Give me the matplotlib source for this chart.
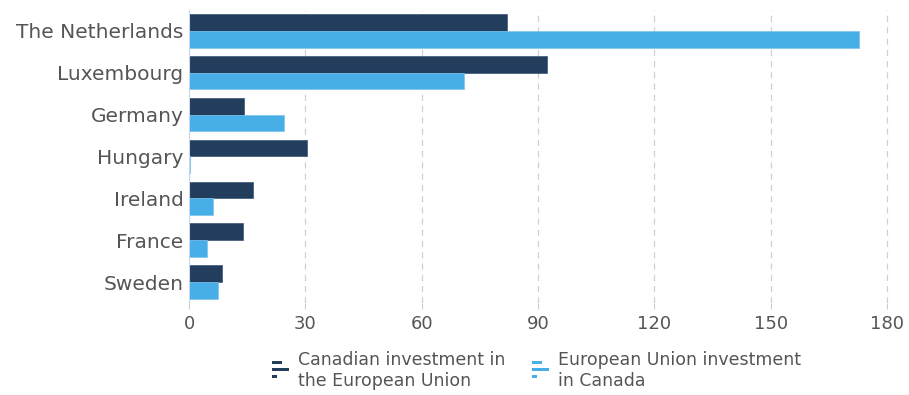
import numpy as np
import matplotlib
matplotlib.use("Agg")
import matplotlib.pyplot as plt
from matplotlib.patches import Rectangle
from matplotlib.legend_handler import HandlerBase

# datos
paises = ["The Netherlands", "Luxembourg", "Germany", "Hungary", "Ireland", "France", "Sweden"]
canada_en_ue = [82.0, 92.3, 14.1, 30.5, 16.4, 13.8, 8.5]
ue_en_canada = [172.8, 70.8, 24.4, 0.3, 6.2, 4.6, 7.4]
ticks_x = [0, 30, 60, 90, 120, 150, 180]
etiquetas = ["Canadian investment in\nthe European Union", "European Union investment\nin Canada"]

color_oscuro = "#233d5d"
color_claro = "#47aee8"
gris_texto = "#555555"


class HandlerBarras(HandlerBase):
    # icono pequeño de barras horizontales como en la leyenda original
    def create_artists(self, legend, orig_handle, xdescent, ydescent, width, height, fontsize, trans):
        c = orig_handle.get_facecolor()
        h = height / 5
        arts = [
            Rectangle((0, height * 0.75), width * 0.6, h, facecolor=c, edgecolor="none", transform=trans),
            Rectangle((0, height * 0.35), width, h, facecolor=c, edgecolor="none", transform=trans),
            Rectangle((0, -height * 0.05), width * 0.3, h, facecolor=c, edgecolor="none", transform=trans),
        ]
        return arts


fig = plt.figure(figsize=(9.09, 3.95), dpi=100)
ax = fig.add_axes([0.208, 0.233, 0.772, 0.742])

y = np.arange(len(paises))
alto = 0.4
ax.barh(y - alto / 2, canada_en_ue, height=alto, color=color_oscuro, edgecolor="#3a5575", linewidth=0.5, zorder=3)
ax.barh(y + alto / 2, ue_en_canada, height=alto, color=color_claro, edgecolor="#7cc4ee", linewidth=0.5, zorder=3)

ax.set_ylim(len(paises) - 0.5, -0.5)
ax.set_xlim(0, 181)
ax.set_yticks(y)
ax.set_yticklabels(paises, fontsize=14.5, color=gris_texto)
ax.set_xticks(ticks_x)
ax.set_xticklabels([str(t) for t in ticks_x], fontsize=13, color=gris_texto)
ax.tick_params(axis="y", length=0, pad=4)
ax.tick_params(axis="x", length=4, color="#cccccc", pad=5)

ax.grid(axis="x", linestyle=(0, (5, 4)), color="#d0d0d0", linewidth=0.9, zorder=0)
for lado in ["top", "right", "bottom"]:
    ax.spines[lado].set_visible(False)
ax.spines["left"].set_color("#c8d8e8")
ax.spines["left"].set_zorder(4)

h1 = Rectangle((0, 0), 1, 1, facecolor=color_oscuro)
h2 = Rectangle((0, 0), 1, 1, facecolor=color_claro)
fig.legend([h1, h2], etiquetas, loc="center", bbox_to_anchor=(0.59, 0.062), ncol=2,
           frameon=False, fontsize=12.5, labelcolor=gris_texto, handlelength=1.0, handleheight=1.2,
           handletextpad=0.5, columnspacing=1.5,
           handler_map={Rectangle: HandlerBarras()})

fig.savefig("out.png", dpi=100)
